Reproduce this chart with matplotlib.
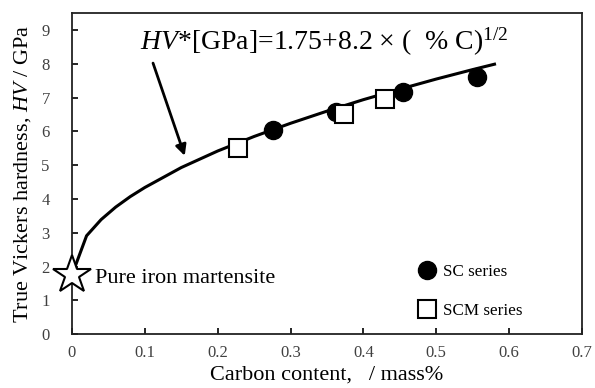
import numpy as np
import matplotlib.pyplot as plt
from matplotlib.lines import Line2D

plt.rcParams['font.family'] = ['Liberation Serif', 'DejaVu Serif']
plt.rcParams['mathtext.fontset'] = 'custom'
plt.rcParams['mathtext.rm'] = 'Liberation Serif'
plt.rcParams['mathtext.it'] = 'Liberation Serif:italic'

# fitted curve
curve_c = [0, 0.02, 0.04, 0.06, 0.08, 0.1, 0.15, 0.2, 0.25, 0.3, 0.35, 0.4, 0.45, 0.5, 0.55, 0.58]
curve_hv = [1.75, 2.91, 3.39, 3.76, 4.07, 4.34, 4.93, 5.42, 5.85, 6.24, 6.60, 6.94, 7.25, 7.55, 7.83, 7.99]

sc_c = [0.276, 0.362, 0.455, 0.556]
sc_hv = [6.04, 6.57, 7.16, 7.60]

scm_c = [0.228, 0.373, 0.43]
scm_hv = [5.52, 6.52, 6.95]

pure_c = [0.0]
pure_hv = [1.75]

fig = plt.figure(figsize=(5.95, 3.88), dpi=100)
ax = fig.add_axes([0.121, 0.139, 0.857, 0.827])

ax.plot(curve_c, curve_hv, color='black', lw=2.2, zorder=2)
ax.plot(sc_c, sc_hv, 'o', color='black', ms=13, zorder=3)
ax.plot(scm_c, scm_hv, 's', mfc='white', mec='black', mew=1.5, ms=13, zorder=4)
ax.plot(pure_c, pure_hv, '*', mfc='white', mec='black', mew=1.5, ms=29, zorder=5, clip_on=False)

ax.text(0.031, 1.65, 'Pure iron martensite', fontsize=16, va='center', ha='left')
ax.text(0.094, 8.65, r'$\it{HV}$*[GPa]=1.75+8.2 $\times$ (  % C)$^{1/2}$', fontsize=20, va='center', ha='left')
ax.annotate('', xy=(0.156, 5.2), xytext=(0.11, 8.1),
            arrowprops=dict(arrowstyle='-|>', color='black', lw=2, mutation_scale=16))

handles = [Line2D([], [], ls='none', marker='o', color='black', ms=13),
           Line2D([], [], ls='none', marker='s', mfc='white', mec='black', mew=1.5, ms=13)]
ax.legend(handles, ['SC series', 'SCM series'], loc='lower left', bbox_to_anchor=(0.64, 0.0),
          frameon=False, fontsize=12.3, labelspacing=1.35, handletextpad=0.2, handlelength=1.5)

ax.set_xlim(0, 0.7)
ax.set_ylim(0, 9.5)
ax.set_xticks(np.arange(0, 0.71, 0.1))
ax.set_xticklabels(['0', '0.1', '0.2', '0.3', '0.4', '0.5', '0.6', '0.7'])
ax.set_yticks(range(0, 10))
ax.tick_params(direction='in', length=4, width=1.2, labelsize=12, labelcolor='#404040')
ax.tick_params(axis='y', pad=16)
ax.tick_params(axis='x', pad=8)
for s in ax.spines.values():
    s.set_linewidth(1.3)
    s.set_color('#222222')

ax.set_xlabel('Carbon content,   / mass%', fontsize=16, labelpad=3)
ax.set_ylabel(r'True Vickers hardness, $\it{HV}$ / GPa', fontsize=16, labelpad=6)

fig.savefig('out.png', dpi=100)
